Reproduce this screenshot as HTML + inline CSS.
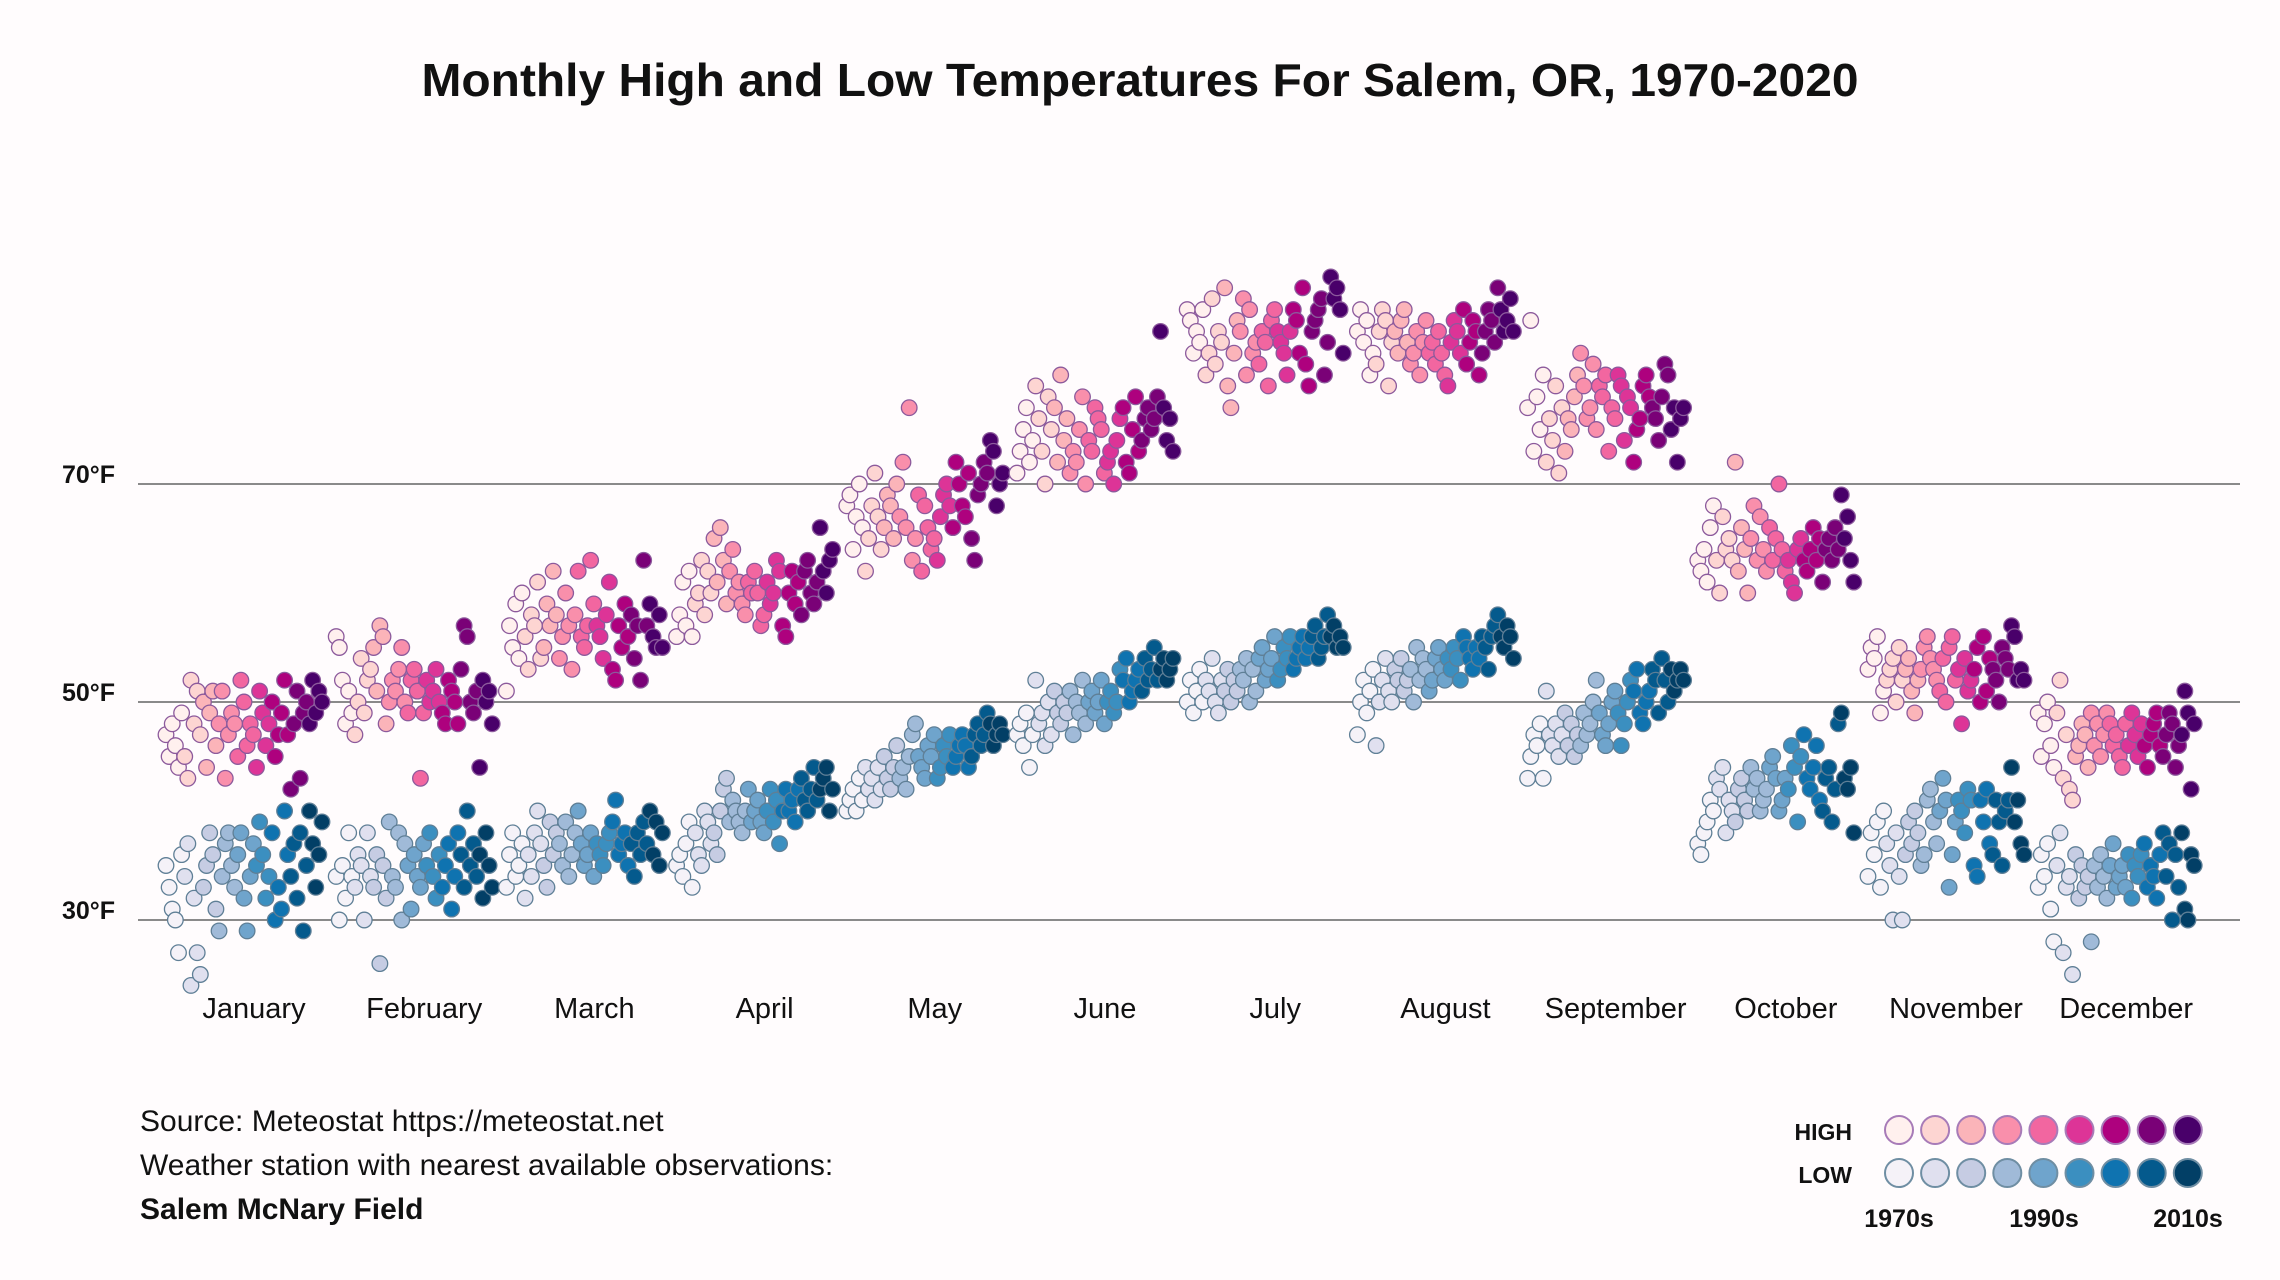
<!DOCTYPE html>
<html><head><meta charset="utf-8">
<style>
html,body{margin:0;padding:0;background:#fffcfd;}
svg{display:block;font-family:"Liberation Sans",sans-serif;}
</style></head>
<body>
<svg id="chart" width="2280" height="1280" viewBox="0 0 2280 1280" xmlns="http://www.w3.org/2000/svg">
<rect x="0" y="0" width="2280" height="1280" fill="#fffcfd"/>
<text x="1140" y="96" text-anchor="middle" font-size="46" font-weight="bold" fill="#111" textLength="1437" lengthAdjust="spacingAndGlyphs">Monthly High and Low Temperatures For Salem, OR, 1970-2020</text>
<g id="grid"></g>
<g id="ylabels"></g>
<g id="xlabels"></g>
<g id="points"></g>
<g fill="#111" font-size="30">
<text x="140" y="1131">Source: Meteostat https://meteostat.net</text>
<text x="140" y="1175">Weather station with nearest available observations:</text>
<text x="140" y="1219" font-weight="bold">Salem McNary Field</text>
</g>
<g id="legend">
<text x="1852" y="1140" text-anchor="end" font-size="23" font-weight="bold" fill="#111">HIGH</text>
<text x="1852" y="1183" text-anchor="end" font-size="23" font-weight="bold" fill="#111">LOW</text>
<text x="1899" y="1227" text-anchor="middle" font-size="25" font-weight="bold" fill="#111">1970s</text>
<text x="2044" y="1227" text-anchor="middle" font-size="25" font-weight="bold" fill="#111">1990s</text>
<text x="2188" y="1227" text-anchor="middle" font-size="25" font-weight="bold" fill="#111">2010s</text>
</g>
</svg>
<script>
const months = ["January","February","March","April","May","June","July","August","September","October","November","December"];
const yTicks = [30,50,70];
const yTickLabels = ["30°F","50°F","70°F"];
const janH=[47,45,48,46,44,49,45,43,52,48,51,47,50,44,49,51,46,48,51,43,47,49,48,45,52,50,46,48,47,44,51,49,46,48,50,45,47,49,52,47,42,48,51,43,49,50,48,52,49,51,50];
const janL=[35,33,31,30,27,36,34,37,24,32,27,25,33,35,38,36,31,29,34,37,38,35,33,36,38,32,29,34,37,35,39,36,32,34,38,30,33,31,40,36,34,37,32,38,29,35,40,37,33,36,39];
const febH=[56,55,52,48,51,49,47,50,54,49,52,53,55,51,57,56,48,50,52,51,53,55,50,49,52,53,51,43,49,52,50,51,53,50,49,48,52,51,50,48,53,57,56,50,49,51,44,52,50,51,48];
const febL=[34,30,35,32,38,34,33,36,35,30,38,34,33,36,26,35,32,39,34,33,38,30,37,35,31,36,34,33,37,35,38,34,32,36,33,35,37,31,34,38,36,33,40,35,37,34,36,32,38,35,33];
const marH=[51,57,55,59,54,60,56,53,58,57,61,54,55,59,57,62,58,54,56,60,57,53,58,62,56,55,57,63,59,57,56,54,58,61,53,52,57,55,59,56,58,54,57,52,63,57,59,56,55,58,55];
const marL=[33,36,38,34,35,37,32,36,34,38,40,37,35,33,39,36,38,37,35,39,34,36,38,40,37,35,36,38,34,37,36,35,37,38,39,41,36,37,38,35,37,34,38,36,39,37,40,36,39,35,38];
const aprH=[56,58,61,57,62,56,59,60,63,58,62,60,65,61,66,63,59,62,64,60,61,59,58,61,60,62,60,57,58,61,59,60,63,62,57,56,60,62,59,61,58,62,63,60,59,61,66,62,60,63,64];
const aprL=[35,36,34,37,39,33,38,36,35,40,39,37,38,36,40,42,43,39,41,40,39,38,40,42,39,40,41,39,38,40,42,39,41,37,40,42,40,41,39,42,43,41,40,42,44,41,42,43,44,40,42];
const mayH=[68,69,64,67,70,66,62,65,68,71,67,64,66,69,68,65,70,67,72,66,77,63,65,69,62,68,66,64,65,63,67,69,70,68,66,72,70,68,67,71,65,63,69,70,72,71,74,73,68,70,71];
const mayL=[40,41,42,40,43,41,44,42,43,41,44,42,45,43,42,44,46,43,44,42,45,47,48,45,44,43,46,45,47,43,44,46,45,47,44,45,46,47,46,44,45,47,48,46,47,49,48,46,47,48,47];
const junH=[71,73,75,77,72,74,79,76,73,70,78,75,77,72,80,74,76,71,73,72,75,78,70,74,73,77,76,75,71,72,73,70,74,76,77,72,71,75,78,73,74,76,77,75,76,78,84,77,74,76,73];
const junL=[47,48,46,49,44,47,52,48,49,46,50,47,51,49,48,50,49,51,47,50,49,52,48,50,51,49,50,52,48,50,51,49,50,53,52,54,50,51,52,53,51,54,52,53,55,52,53,54,52,53,54];
const julH=[86,85,82,84,83,86,80,82,87,81,84,83,88,79,77,82,85,84,87,80,86,82,83,81,84,83,79,85,86,84,83,82,80,84,86,85,82,88,81,79,84,85,86,87,80,83,89,87,88,86,82];
const julL=[50,52,49,51,53,50,52,51,54,50,49,52,51,53,50,52,51,53,52,54,50,53,51,54,55,52,53,54,56,52,53,55,54,56,53,54,55,56,54,55,56,57,54,55,56,58,56,57,55,56,55];
const augH=[84,86,83,85,80,82,81,84,86,85,79,83,84,82,85,86,83,81,82,84,80,83,85,82,83,81,84,82,80,79,83,85,84,82,86,81,83,85,84,80,82,84,86,85,83,88,86,84,85,87,84];
const augL=[47,50,52,49,51,53,46,50,52,54,51,50,53,52,54,51,52,53,50,55,52,54,53,51,52,54,55,53,52,54,53,55,54,52,56,55,54,53,55,54,56,55,53,56,57,58,56,55,57,56,54];
const sepH=[77,85,73,78,75,80,72,76,74,79,71,77,73,76,75,78,80,82,79,76,77,81,75,79,78,80,73,77,76,80,79,74,78,77,72,75,76,79,80,78,77,76,74,78,81,80,75,77,72,76,77];
const sepL=[43,45,47,46,48,43,51,47,46,48,45,47,49,46,48,45,47,46,49,47,48,50,52,49,47,46,48,50,51,49,46,48,50,52,51,53,49,48,50,51,53,52,49,54,52,50,53,51,52,53,52];
const octH=[63,62,64,61,66,68,63,60,67,64,65,63,72,62,66,64,60,65,68,63,67,64,62,66,63,65,70,64,62,63,61,60,64,65,63,62,64,66,63,65,61,64,65,63,66,64,69,65,67,63,61];
const octL=[37,36,38,39,41,40,43,42,44,38,41,40,39,42,43,41,40,44,42,43,40,41,42,44,45,43,40,41,43,42,46,44,39,45,47,43,42,44,46,41,40,43,44,39,42,48,49,43,42,44,38];
const novH=[53,55,54,56,49,51,52,53,54,50,55,52,53,54,51,49,52,53,55,56,54,53,52,51,54,50,55,56,52,53,48,54,51,52,53,55,50,56,51,54,53,52,50,55,54,53,57,56,52,53,52];
const novL=[34,38,36,39,33,40,37,35,30,38,34,30,36,39,37,40,38,35,36,41,42,39,37,40,43,41,33,36,39,41,40,38,42,41,35,34,41,39,42,37,36,41,39,35,40,41,44,39,41,37,36];
const decH=[49,45,48,50,46,44,49,52,43,47,42,41,45,46,48,47,44,49,46,48,45,47,49,48,46,47,45,44,48,46,49,47,45,48,46,44,47,48,49,46,45,47,49,48,44,46,47,51,49,42,48];
const decL=[33,36,34,37,31,28,35,38,27,33,34,25,36,32,35,33,34,28,35,33,36,34,32,35,37,33,34,35,33,36,32,35,34,36,37,33,35,34,32,36,38,34,37,30,36,33,38,31,30,36,35];
const highs=[janH,febH,marH,aprH,mayH,junH,julH,augH,sepH,octH,novH,decH];
const lows=[janL,febL,marL,aprL,mayL,junL,julL,augL,sepL,octL,novL,decL];
const highColors=["#fff0ee","#fdd5d2","#fbb4b9","#f98fab","#f266a0","#dd3497","#ae017e","#7a0177","#49006a"];
const lowColors=["#f5f2f8","#e0e0ef","#c6cce3","#a0bad8","#6fa4cc","#3b8fc0","#0f73b0","#045a8d","#023f66"];

const NS="http://www.w3.org/2000/svg";
function yScale(t){return 702-(t-50)*10.9;}
function monthX(m){return 254+m*170.2;}
function yearX(m,i,n){return monthX(m)-88+(i/(n-1))*156;}
function colorBin(i,n){return Math.min(8,Math.floor(i/n*9));}

const grid=document.getElementById('grid');
const yl=document.getElementById('ylabels');
yTicks.forEach((t,k)=>{
  const l=document.createElementNS(NS,'line');
  l.setAttribute('x1',138);l.setAttribute('x2',2240);
  l.setAttribute('y1',yScale(t));l.setAttribute('y2',yScale(t));
  l.setAttribute('stroke','#8a8a8a');l.setAttribute('stroke-width','2');
  
  
  grid.appendChild(l);
  const tx=document.createElementNS(NS,'text');
  tx.setAttribute('x',62);tx.setAttribute('y',yScale(t)-1);
  tx.setAttribute('font-size','25');tx.setAttribute('font-weight','bold');tx.setAttribute('fill','#111');
  tx.textContent=yTickLabels[k];
  
  
  yl.appendChild(tx);
});
const xl=document.getElementById('xlabels');
months.forEach((mn,m)=>{
  const tx=document.createElementNS(NS,'text');
  tx.setAttribute('x',monthX(m));tx.setAttribute('y',1018);
  tx.setAttribute('text-anchor','middle');tx.setAttribute('font-size','29');tx.setAttribute('fill','#111');
  tx.textContent=mn;
  
  
  xl.appendChild(tx);
});
const pts=document.getElementById('points');
function drawSeries(arr,m,colors,stroke,kind){
  const n=arr.length;
  arr.forEach((v,i)=>{
    const c=document.createElementNS(NS,'circle');
    c.setAttribute('cx',yearX(m,i,n));c.setAttribute('cy',yScale(v));c.setAttribute('r',7.8);
    c.setAttribute('fill',colors[colorBin(i,n)]);c.setAttribute('stroke',stroke);c.setAttribute('stroke-width','1.3');
    
    
    pts.appendChild(c);
  });
}
for(let m=0;m<12;m++){
  drawSeries(lows[m],m,lowColors,'#5f7f96','low');
  drawSeries(highs[m],m,highColors,'#8c5a9c','high');
}
const lg=document.getElementById('legend');
for(let k=0;k<9;k++){
  [['high',highColors,'#a77bb8',1130],['low',lowColors,'#6f8ea3',1173]].forEach(([kind,cols,st,cy])=>{
    const c=document.createElementNS(NS,'circle');
    c.setAttribute('cx',1899+k*36.1);c.setAttribute('cy',cy);c.setAttribute('r',14);
    c.setAttribute('fill',cols[k]);c.setAttribute('stroke',st);c.setAttribute('stroke-width','2');
    
    
    lg.appendChild(c);
  });
}
</script>
</body></html>
